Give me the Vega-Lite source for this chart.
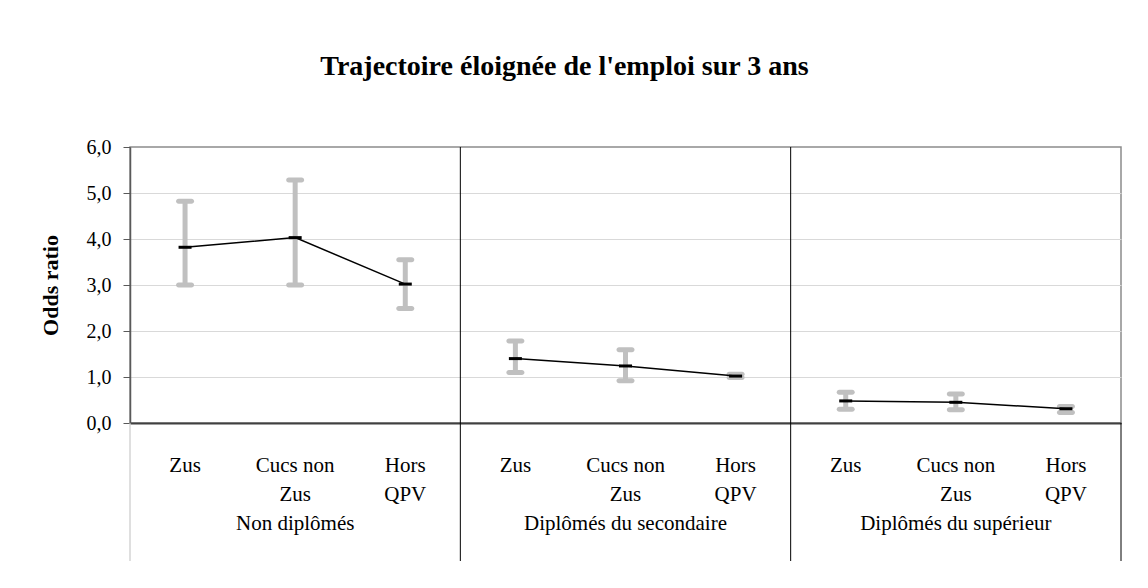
{
  "$schema": "https://vega.github.io/schema/vega-lite/v6.json",
  "width": 991,
  "height": 276,
  "autosize": {"type": "none"},
  "padding": {"left": 130, "top": 147, "right": 27, "bottom": 165},
  "background": "white",
  "title": {
    "text": "Trajectoire éloignée de l'emploi sur 3 ans",
    "font": "Liberation Serif",
    "fontSize": 28,
    "fontWeight": "bold",
    "color": "black",
    "anchor": "middle",
    "frame": "group",
    "baseline": "alphabetic",
    "offset": 34,
    "dx": -61
  },
  "data": {
    "values": [
      {"groupe": "Non diplômés", "zone": "Zus", "key": "Non diplômés|Zus", "odds": 3.82, "lo": 3.0, "hi": 4.82},
      {"groupe": "Non diplômés", "zone": "Cucs non Zus", "key": "Non diplômés|Cucs non Zus", "odds": 4.03, "lo": 3.0, "hi": 5.28},
      {"groupe": "Non diplômés", "zone": "Hors QPV", "key": "Non diplômés|Hors QPV", "odds": 3.02, "lo": 2.49, "hi": 3.55},
      {"groupe": "Diplômés du secondaire", "zone": "Zus", "key": "Diplômés du secondaire|Zus", "odds": 1.4, "lo": 1.1, "hi": 1.78},
      {"groupe": "Diplômés du secondaire", "zone": "Cucs non Zus", "key": "Diplômés du secondaire|Cucs non Zus", "odds": 1.24, "lo": 0.92, "hi": 1.59},
      {"groupe": "Diplômés du secondaire", "zone": "Hors QPV", "key": "Diplômés du secondaire|Hors QPV", "odds": 1.02, "lo": 0.99, "hi": 1.06},
      {"groupe": "Diplômés du supérieur", "zone": "Zus", "key": "Diplômés du supérieur|Zus", "odds": 0.48, "lo": 0.3, "hi": 0.67},
      {"groupe": "Diplômés du supérieur", "zone": "Cucs non Zus", "key": "Diplômés du supérieur|Cucs non Zus", "odds": 0.45, "lo": 0.29, "hi": 0.63},
      {"groupe": "Diplômés du supérieur", "zone": "Hors QPV", "key": "Diplômés du supérieur|Hors QPV", "odds": 0.31, "lo": 0.23, "hi": 0.36}
    ]
  },
  "encoding": {
    "x": {
      "field": "key",
      "type": "nominal",
      "bandPosition": 0.5,
      "scale": {
        "type": "band",
        "paddingInner": 0,
        "paddingOuter": 0,
        "domain": ["Non diplômés|Zus", "Non diplômés|Cucs non Zus", "Non diplômés|Hors QPV", "Diplômés du secondaire|Zus", "Diplômés du secondaire|Cucs non Zus", "Diplômés du secondaire|Hors QPV", "Diplômés du supérieur|Zus", "Diplômés du supérieur|Cucs non Zus", "Diplômés du supérieur|Hors QPV"]
      },
      "axis": {
        "title": null,
        "labelExpr": "split(datum.value,'|')[1] == 'Zus' ? 'Zus' : (split(datum.value,'|')[1] == 'Hors QPV' ? ['Hors','QPV'] : ['Cucs non','Zus',' ',split(datum.value,'|')[0]])",
        "labelFont": "Liberation Serif",
        "labelFontSize": 21,
        "labelColor": "black",
        "labelAngle": 0,
        "labelPadding": 31,
        "labelLineHeight": 29,
        "labelOverlap": false,
        "labelLimit": 0,
        "labelFlush": false,
        "labelBound": false,
        "ticks": false,
        "grid": false,
        "domainColor": "#404040",
        "domainWidth": 2
      }
    }
  },
  "layer": [
    {
      "mark": {"type": "rule", "color": "#c0c0c0", "strokeWidth": 5},
      "encoding": {
        "y": {"field": "lo", "type": "quantitative"},
        "y2": {"field": "hi"}
      }
    },
    {
      "mark": {"type": "tick", "color": "#c0c0c0", "thickness": 5, "size": 18, "cornerRadius": 2.5, "opacity": 1},
      "encoding": {"y": {"field": "lo", "type": "quantitative"}}
    },
    {
      "mark": {"type": "tick", "color": "#c0c0c0", "thickness": 5, "size": 18, "cornerRadius": 2.5, "opacity": 1},
      "encoding": {"y": {"field": "hi", "type": "quantitative"}}
    },
    {
      "mark": {"type": "line", "color": "black", "strokeWidth": 1.5},
      "encoding": {
        "y": {
          "field": "odds",
          "type": "quantitative",
          "scale": {"domain": [0, 6], "nice": false},
          "axis": {
            "title": "Odds ratio",
            "titleFont": "Liberation Serif",
            "titleFontSize": 22,
            "titleFontWeight": "bold",
            "titleColor": "black",
            "titlePadding": 24,
            "values": [0, 1, 2, 3, 4, 5, 6],
            "format": ".1f",
            "labelExpr": "replace(datum.label, '.', ',')",
            "labelFont": "Liberation Serif",
            "labelFontSize": 20,
            "labelColor": "black",
            "labelPadding": 12,
            "tickSize": 7,
            "tickColor": "#595959",
            "domainColor": "#595959",
            "domainWidth": 1.5,
            "grid": true,
            "gridColor": {"condition": {"test": "datum.value == 6 || datum.value == 0", "value": "transparent"}, "value": "#d9d9d9"},
            "gridWidth": 1
          }
        },
        "detail": {"field": "groupe", "type": "nominal"}
      }
    },
    {
      "mark": {"type": "tick", "color": "black", "thickness": 3, "size": 13, "opacity": 1},
      "encoding": {"y": {"field": "odds", "type": "quantitative"}}
    },
    {
      "transform": [{"filter": "datum.zone == 'Zus' && datum.groupe != 'Non diplômés'"}],
      "mark": {"type": "rule", "color": "black", "strokeWidth": 1},
      "encoding": {
        "x": {"field": "key", "type": "nominal", "bandPosition": 0},
        "y": {"datum": 6},
        "y2": {"datum": -3}
      }
    },
    {
      "transform": [{"filter": "datum.zone == 'Zus' && datum.groupe == 'Non diplômés'"}],
      "mark": {"type": "rule", "color": "#bfbfbf", "strokeWidth": 1},
      "encoding": {
        "x": {"field": "key", "type": "nominal", "bandPosition": 0},
        "y": {"datum": 0},
        "y2": {"datum": -3}
      }
    },
    {
      "transform": [{"filter": "datum.zone == 'Hors QPV' && datum.groupe == 'Diplômés du supérieur'"}],
      "mark": {"type": "rule", "color": "black", "strokeWidth": 1},
      "encoding": {
        "x": {"field": "key", "type": "nominal", "bandPosition": 1},
        "y": {"datum": 0},
        "y2": {"datum": -3}
      }
    }
  ],
  "config": {
    "font": "Liberation Serif",
    "view": {"stroke": "#8c8c8c", "strokeWidth": 1.5}
  }
}
